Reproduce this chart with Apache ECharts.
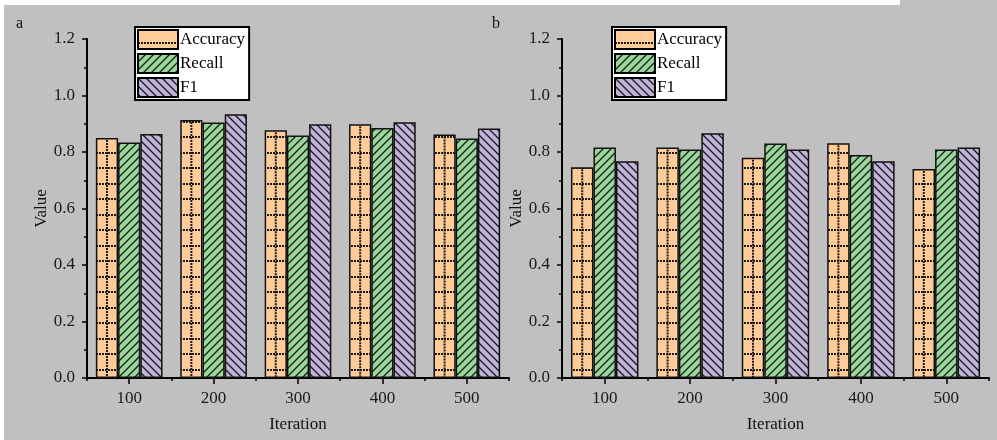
<!DOCTYPE html>
<html>
<head>
<meta charset="utf-8">
<script src="https://cdn.jsdelivr.net/npm/echarts@6/dist/echarts.min.js"></script>
<style>
html,body{margin:0;padding:0;background:#c0c0c0;overflow:hidden;}
#chart{width:997px;height:440px;}
</style>
</head>
<body>
<div id="chart"></div>
<script>
var categories = ['100', '200', '300', '400', '500'];
var seriesNames = ['Accuracy', 'Recall', 'F1'];
var accA = [0.850, 0.913, 0.877, 0.898, 0.862];
var recA = [0.834, 0.904, 0.858, 0.885, 0.848];
var f1A  = [0.864, 0.934, 0.898, 0.905, 0.883];
var accB = [0.746, 0.816, 0.780, 0.831, 0.740];
var recB = [0.816, 0.809, 0.830, 0.789, 0.809];
var f1B  = [0.767, 0.866, 0.809, 0.767, 0.816];
var panelLabels = ['a', 'b'];
var xName = 'Iteration';
var yName = 'Value';

var FONT = "'Liberation Serif','Times New Roman',serif";
var GAP = 0.21;
var ORANGE = '#FFCC99', GREEN = '#99D699', PURPLE = '#C1B3DA';

function dotPattern() {
  var c = document.createElement('canvas');
  c.width = 3; c.height = 31;
  var g = c.getContext('2d');
  g.fillStyle = ORANGE; g.fillRect(0, 0, 3, 31);
  g.fillStyle = '#1a1a1a';
  g.fillRect(0, 12, 2, 2);
  g.fillRect(0, 28, 2, 2);
  return {image: c, repeat: 'repeat'};
}
function hatchPattern(bg, dir) {
  var s = 8;
  var c = document.createElement('canvas');
  c.width = s; c.height = s;
  var g = c.getContext('2d');
  g.fillStyle = bg; g.fillRect(0, 0, s, s);
  g.strokeStyle = '#1a1a1a'; g.lineWidth = 1.3;
  g.beginPath();
  if (dir === '/') {
    g.moveTo(-1, s + 1); g.lineTo(s + 1, -1);
    g.moveTo(-1, 1); g.lineTo(1, -1);
    g.moveTo(s - 1, s + 1); g.lineTo(s + 1, s - 1);
  } else {
    g.moveTo(-1, -1); g.lineTo(s + 1, s + 1);
    g.moveTo(s - 1, -1); g.lineTo(s + 1, 1);
    g.moveTo(-1, s - 1); g.lineTo(1, s + 1);
  }
  g.stroke();
  return {image: c, repeat: 'repeat'};
}
var pAcc = dotPattern(), pRec = hatchPattern(GREEN, '/'), pF1 = hatchPattern(PURPLE, '\\');

var grids = [
  {left: 87, top: 39, width: 422, height: 339},
  {left: 562, top: 39, width: 427, height: 339}
];

function makeX(gi) {
  return [
    {type: 'category', gridIndex: gi, data: categories, position: 'bottom',
     name: xName, nameLocation: 'middle', nameGap: 38,
     nameTextStyle: {fontFamily: FONT, fontSize: 17, color: '#111'},
     axisLine: {lineStyle: {color: '#000', width: 2}},
     axisTick: {show: true, length: 3, lineStyle: {color: '#000', width: 1.5}},
     axisLabel: {fontFamily: FONT, fontSize: 17, color: '#1a1a1a', margin: 12},
     splitLine: {show: false}},
    {type: 'category', gridIndex: gi, data: categories, position: 'bottom',
     axisLine: {show: false},
     axisTick: {show: true, alignWithLabel: true, length: 6, lineStyle: {color: '#000', width: 1.5}},
     axisLabel: {show: false}, splitLine: {show: false}}
  ];
}
function makeY(gi) {
  return {type: 'value', gridIndex: gi, min: 0, max: 1.2, interval: 0.2,
    name: yName, nameLocation: 'middle', nameGap: 37,
    nameTextStyle: {fontFamily: FONT, fontSize: 17, color: '#111'},
    axisLine: {show: true, lineStyle: {color: '#000', width: 2}},
    axisTick: {show: true, length: 5, lineStyle: {color: '#000', width: 1.5}},
    minorTick: {show: true, splitNumber: 2, length: 3, lineStyle: {color: '#000', width: 1.5}},
    axisLabel: {fontFamily: FONT, fontSize: 17, color: '#1a1a1a', margin: 12,
      formatter: function (v) { return v.toFixed(1); }},
    splitLine: {show: false}};
}

function barSeries(name, data, gi, color) {
  return {type: 'bar', name: name, data: data, xAxisIndex: gi * 2, yAxisIndex: gi,
    barCategoryGap: (GAP * 100) + '%', barGap: '0%',
    itemStyle: {color: color, borderColor: '#111', borderWidth: 1.5},
    emphasis: {disabled: true}, animation: false};
}
function dotLineSeries(data, gi) {
  return {type: 'custom', name: 'accDots' + gi, xAxisIndex: gi * 2, yAxisIndex: gi,
    data: data.map(function (v, i) { return [i, v]; }),
    encode: {x: 0, y: 1}, z: 5, silent: true, animation: false,
    renderItem: function (params, api) {
      var top = api.coord([api.value(0), api.value(1)]);
      var base = api.coord([api.value(0), 0]);
      var band = api.size([1, 0])[0];
      var bw = band * (1 - GAP) / 3;
      var x = top[0] - bw;
      return {type: 'line', silent: true,
        shape: {x1: x, y1: top[1] + 2, x2: x, y2: base[1]},
        style: {stroke: '#1a1a1a', lineWidth: 2, lineDash: [2, 1]}};
    }};
}

function makeLegend(left) {
  return {left: left, top: 27, orient: 'vertical', data: seriesNames,
    icon: 'rect', itemWidth: 40, itemHeight: 19, itemGap: 3,
    backgroundColor: '#fff', borderColor: '#000', borderWidth: 2, borderRadius: 0,
    padding: [2, 4, 2, 2], selectedMode: false,
    itemStyle: {borderColor: '#000', borderWidth: 2},
    textStyle: {fontFamily: FONT, fontSize: 17, color: '#000', padding: [0, 0, 0, -3]}};
}

var chart = echarts.init(document.getElementById('chart'), null, {renderer: 'canvas'});
chart.setOption({
  backgroundColor: '#c0c0c0',
  animation: false,
  grid: grids,
  xAxis: makeX(0).concat(makeX(1)),
  yAxis: [makeY(0), makeY(1)],
  legend: [makeLegend(135), makeLegend(612)],
  graphic: [
    {type: 'rect', left: 0, top: 0, shape: {width: 900, height: 5}, style: {fill: '#fff'}, silent: true},
    {type: 'rect', left: 0, top: 0, shape: {width: 4, height: 440}, style: {fill: '#fff'}, silent: true},
    {type: 'text', left: 16, top: 16, style: {text: panelLabels[0], font: '16px ' + FONT, fill: '#111'}},
    {type: 'text', left: 492, top: 16, style: {text: panelLabels[1], font: '16px ' + FONT, fill: '#111'}}
  ],
  series: [
    barSeries('Accuracy', accA, 0, pAcc),
    barSeries('Recall', recA, 0, pRec),
    barSeries('F1', f1A, 0, pF1),
    dotLineSeries(accA, 0),
    barSeries('Accuracy', accB, 1, pAcc),
    barSeries('Recall', recB, 1, pRec),
    barSeries('F1', f1B, 1, pF1),
    dotLineSeries(accB, 1)
  ]
});
</script>
</body>
</html>
